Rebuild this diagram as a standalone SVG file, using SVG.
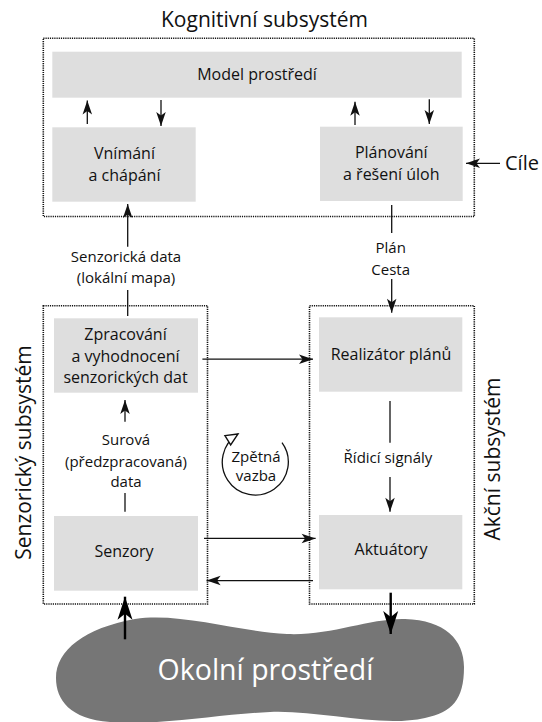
<svg xmlns="http://www.w3.org/2000/svg" width="542" height="722" viewBox="0 0 542 722">
<defs>
<style>
text{font-family:"Open Sans","Noto Sans","DejaVu Sans",sans-serif;fill:#111;}
.box{fill:#dedede;}
.sub{fill:none;stroke:#111;stroke-width:1.6;stroke-dasharray:1.2 1;}
.lbl{font-size:16px;text-anchor:middle;}
.cl{font-size:15px;text-anchor:middle;}
.big{font-size:21px;text-anchor:middle;}
.ln{fill:none;stroke:#111;stroke-width:1.3;}
.thick{fill:none;stroke:#000;stroke-width:2.4;}
</style>
<marker id="ah" markerUnits="userSpaceOnUse" markerWidth="15" markerHeight="10" refX="14" refY="4.75" orient="auto" overflow="visible">
<path d="M0,0 L14,4.75 L0,9.5 L3.5,4.75 Z" fill="#111"/>
</marker>
<marker id="ahb" markerUnits="userSpaceOnUse" markerWidth="24" markerHeight="16" refX="23" refY="7.5" orient="auto" overflow="visible">
<path d="M0,0 L23,7.5 L0,15 L6,7.5 Z" fill="#000"/>
</marker>
<marker id="aho" markerUnits="userSpaceOnUse" markerWidth="16" markerHeight="14" refX="13" refY="6.5" orient="auto" overflow="visible">
<path d="M1,1 L13,6.5 L1,12 Z" fill="#fff" stroke="#111" stroke-width="1.4" stroke-linejoin="miter"/>
</marker>
</defs>
<rect width="542" height="722" fill="#fff"/>

<g id="cognitive-subsystem">
<rect class="sub" x="43.3" y="38.3" width="431" height="178.2"/>
<text class="big" x="264.5" y="27">Kognitivní subsystém</text>
</g>
<g id="model">
<rect class="box" x="52.3" y="51.7" width="409.4" height="46"/>
<text class="lbl" x="257" y="80">Model prostředí</text>
</g>
<g id="vnimani">
<rect class="box" x="52.3" y="127.3" width="143.4" height="74.4"/>
<text class="lbl" x="124.5" y="159.3">Vnímání</text>
<text class="lbl" x="124.5" y="181">a chápání</text>
</g>
<g id="planovani">
<rect class="box" x="320" y="126.7" width="142.7" height="74.3"/>
<text class="lbl" x="391.3" y="158.3">Plánování</text>
<text class="lbl" x="391.3" y="180">a řešení úloh</text>
</g>
<g id="cile">
<text x="505" y="170" style="font-size:20px">Cíle</text>
</g>

<g id="sensory-subsystem">
<rect class="sub" x="43.3" y="305.7" width="164.2" height="298.3"/>
<text class="big" transform="translate(31,452.5) rotate(-90)">Senzorický subsystém</text>
</g>
<g id="zpracovani">
<rect class="box" x="54" y="318.3" width="144" height="74.4"/>
<text class="lbl" x="125.5" y="340">Zpracování</text>
<text class="lbl" x="125.5" y="361.7">a vyhodnocení</text>
<text class="lbl" x="125.5" y="383.3">senzorických dat</text>
</g>
<g id="senzory">
<rect class="box" x="54" y="516" width="144" height="74.7"/>
<text class="lbl" x="124" y="557.3">Senzory</text>
</g>

<g id="action-subsystem">
<rect class="sub" x="309.5" y="305.7" width="164.8" height="298.3"/>
<text class="big" transform="translate(500,459) rotate(-90)">Akční subsystém</text>
</g>
<g id="realizator">
<rect class="box" x="319" y="317.3" width="143.3" height="74.4"/>
<text class="lbl" x="391" y="360">Realizátor plánů</text>
</g>
<g id="aktuatory">
<rect class="box" x="319" y="515" width="143.3" height="74.3"/>
<text class="lbl" x="391" y="555">Aktuátory</text>
</g>

<g id="environment">
<path d="M56,678 C56,650 85,628 135,619 C180,612 240,632 287,634 C330,636 370,618 405,619 C445,620 464,640 464,667 C464,700 452,712 425,718 C380,728 320,710 270,712 C220,714 160,726 110,722 C70,719 56,700 56,678 Z" fill="#767676"/>
<text x="265.5" y="680" style="font-size:28.5px;text-anchor:middle;fill:#fff">Okolní prostředí</text>
</g>

<g id="feedback">
<path class="ln" d="M282,442.7 A33,33 0 1 1 238,434" marker-end="url(#aho)"/>
<text class="cl" x="256" y="462">Zpětná</text>
<text class="cl" x="256" y="481">vazba</text>
</g>

<g id="connectors">
<line class="ln" x1="87.3" y1="124" x2="87.3" y2="100.5" marker-end="url(#ah)"/>
<line class="ln" x1="161" y1="100" x2="161" y2="126" marker-end="url(#ah)"/>
<line class="ln" x1="355" y1="125" x2="355" y2="101.7" marker-end="url(#ah)"/>
<line class="ln" x1="429.3" y1="99.3" x2="429.3" y2="124" marker-end="url(#ah)"/>
<line class="ln" x1="500" y1="163.3" x2="466" y2="163.3" marker-end="url(#ah)"/>
<line class="ln" x1="127.7" y1="316" x2="127.7" y2="290"/>
<line class="ln" x1="127.7" y1="246.7" x2="127.7" y2="204" marker-end="url(#ah)"/>
<text class="cl" x="126" y="261.7">Senzorická data</text>
<text class="cl" x="126" y="283.3">(lokální mapa)</text>
<line class="ln" x1="391.7" y1="205" x2="391.7" y2="233"/>
<line class="ln" x1="391.7" y1="279" x2="391.7" y2="312.7" marker-end="url(#ah)"/>
<text class="cl" x="390.7" y="253.3">Plán</text>
<text class="cl" x="390.7" y="275">Cesta</text>
<line class="ln" x1="202.4" y1="359.2" x2="313" y2="359.2" marker-end="url(#ah)"/>
<line class="ln" x1="125" y1="511.7" x2="125" y2="493"/>
<line class="ln" x1="125" y1="421.7" x2="125" y2="400" marker-end="url(#ah)"/>
<text class="cl" x="126" y="445">Surová</text>
<text class="cl" x="126" y="466.5">(předzpracovaná)</text>
<text class="cl" x="126" y="487">data</text>
<line class="ln" x1="390" y1="401" x2="390" y2="442.7"/>
<line class="ln" x1="390" y1="477" x2="390" y2="511.7" marker-end="url(#ah)"/>
<text class="cl" x="388" y="463.3">Řídicí signály</text>
<line class="ln" x1="204" y1="538.4" x2="315.6" y2="538.4" marker-end="url(#ah)"/>
<line class="ln" x1="313" y1="580.6" x2="206.6" y2="580.6" marker-end="url(#ah)"/>
<line class="thick" x1="125" y1="639.3" x2="125" y2="596.7" marker-end="url(#ahb)"/>
<line class="thick" x1="390.7" y1="592.7" x2="390.7" y2="634" marker-end="url(#ahb)"/>
</g>
</svg>
